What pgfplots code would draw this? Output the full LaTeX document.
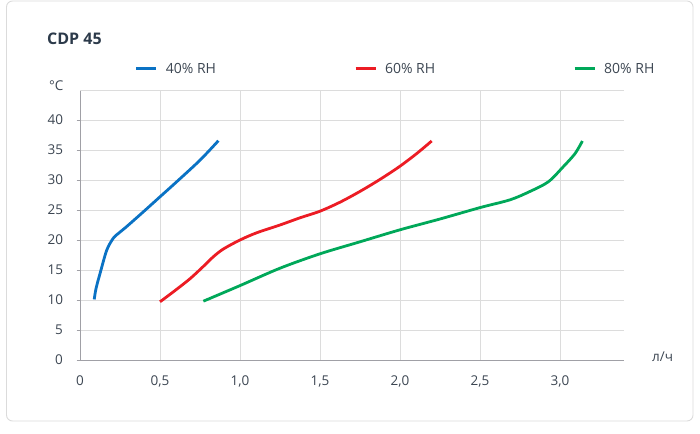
\documentclass[border=0pt]{standalone}
\usepackage{pgfplots}
\pgfplotsset{compat=1.18}
\usepackage{fontspec}
\setmainfont{Open Sans}
\definecolor{cblue}{RGB}{10,114,196}
\definecolor{cred}{RGB}{236,28,36}
\definecolor{cgreen}{RGB}{0,168,89}
\definecolor{txt}{RGB}{60,70,82}
\definecolor{ttl}{RGB}{44,58,74}
\definecolor{gridc}{RGB}{220,220,220}
\definecolor{axc}{RGB}{160,160,166}
\begin{document}
\begin{tikzpicture}
\path[use as bounding box] (0pt,0pt) rectangle (700pt,433pt);
\draw[rounded corners=6pt, draw=black!14, line width=0.9pt] (6.5pt,12pt) rectangle (693pt,432pt);
\node[anchor=west, inner sep=0pt, text=ttl, font=\bfseries\fontsize{16}{18}\selectfont] at (47pt,394pt) {CDP 45};
\begin{axis}[
  at={(80pt,73pt)}, anchor=south west,
  width=544pt, height=270pt, scale only axis,
  xmin=0, xmax=3.4, ymin=0, ymax=45,
  axis lines=left,
  axis line style={axc, line width=0.8pt, -},
  xtick={0,0.5,...,3.0},
  ytick={0,5,...,40},
  xticklabels={0,{0,5},{1,0},{1,5},{2,0},{2,5},{3,0}},
  extra y ticks={45},
  extra y tick labels={°C},
  extra y tick style={major tick length=0pt, yticklabel style={yshift=4pt, xshift=-3pt}},
  grid=major,
  grid style={gridc, line width=0.7pt},
  tick align=outside,
  major tick length=3.5pt,
  x tick style={draw=none},
  y tick style={axc, line width=0.8pt},
  /pgf/number format/assume math mode=true,
  ticklabel style={font=\fontsize{13.5}{15}\selectfont, text=txt},
  xticklabel style={yshift=-9pt},
  yticklabel style={xshift=-10pt},
  xlabel={л/ч},
  xlabel style={at={(axis description cs:1,0)}, anchor=west, inner sep=0pt, xshift=28pt, yshift=3pt, font=\fontsize{13.5}{15}\selectfont, text=txt},
  legend columns=3,
  legend style={draw=none, fill=none, at={(axis description cs:0.095,1)}, anchor=south west, yshift=11pt,
    font=\fontsize{14}{16}\selectfont, text=txt,
    /tikz/every odd column/.append style={column sep=6pt},
    /tikz/every even column/.append style={column sep=136pt}},
  legend image code/.code={\draw[line width=3pt] (0pt,0pt) -- (20pt,0pt);},
  every axis plot/.append style={line width=2.8pt, smooth, tension=0.5},
]
\addplot[cblue] coordinates {
 (0.089,10.1) (0.100,11.9) (0.125,14.4) (0.167,18.3) (0.208,20.3) (0.240,21.1)
 (0.290,22.2) (0.396,24.7) (0.500,27.2) (0.604,29.7) (0.750,33.3) (0.865,36.55)
};
\addlegendentry{40\% RH}
\addplot[cred] coordinates {
 (0.500,9.7) (0.600,11.7) (0.690,13.6) (0.771,15.6) (0.833,17.2) (0.896,18.5)
 (1.000,20.0) (1.104,21.2) (1.250,22.5) (1.375,23.7) (1.500,24.8) (1.625,26.3)
 (1.750,28.1) (1.875,30.1) (2.000,32.3) (2.104,34.4) (2.198,36.5)
};
\addlegendentry{60\% RH}
\addplot[cgreen] coordinates {
 (0.771,9.8) (1.000,12.4) (1.250,15.3) (1.500,17.7) (1.750,19.7) (2.000,21.7)
 (2.250,23.5) (2.500,25.4) (2.688,26.7) (2.813,28.1) (2.927,29.7) (3.020,32.2)
 (3.094,34.4) (3.140,36.5)
};
\addlegendentry{80\% RH}
\end{axis}
\end{tikzpicture}
\end{document}
